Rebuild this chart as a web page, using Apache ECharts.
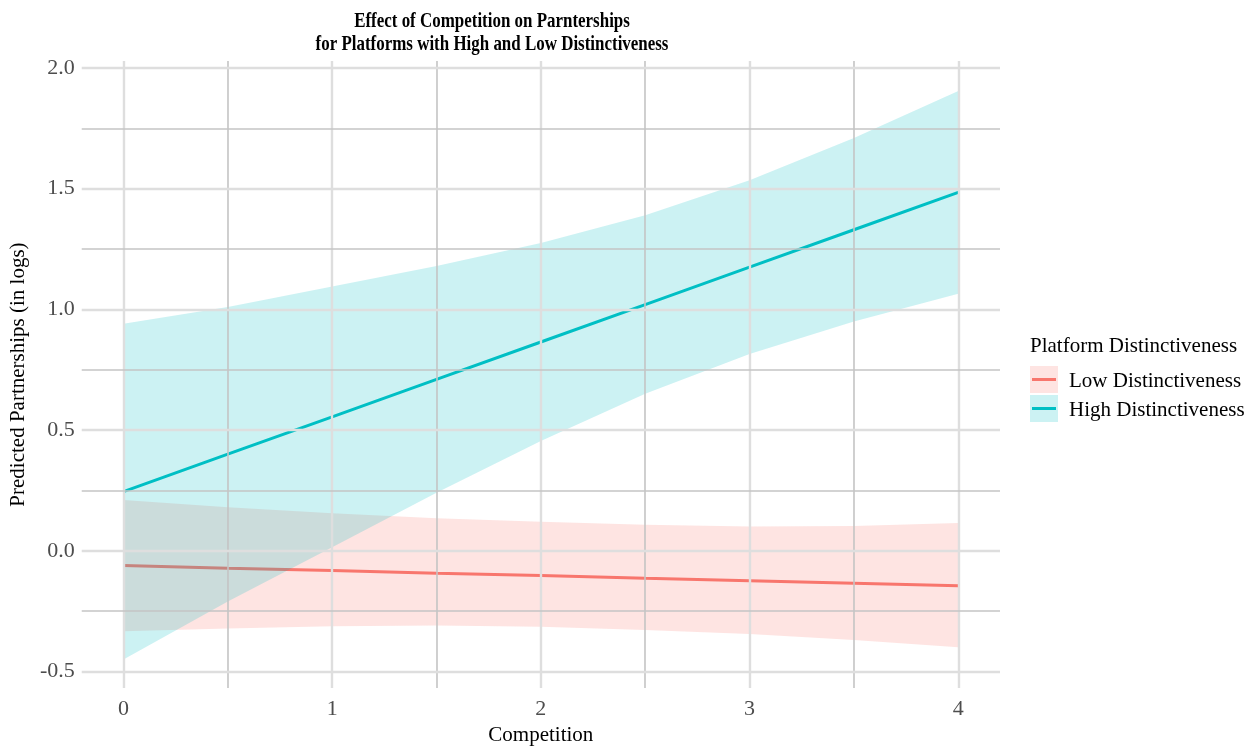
<!DOCTYPE html>
<html>
<head>
<meta charset="utf-8">
<script src="https://cdn.jsdelivr.net/npm/echarts@6/dist/echarts.min.js"></script>
<style>
html,body{margin:0;padding:0;background:#fff;}
#chart{width:1258px;height:751px;}
</style>
</head>
<body>
<div id="chart"></div>
<script>
// ---- data ----
const competition = [0, 0.5, 1, 1.5, 2, 2.5, 3, 3.5, 4];
const lowFit   = [-0.061, -0.072, -0.082, -0.093, -0.103, -0.114, -0.124, -0.135, -0.145];
const lowUpper = [0.210, 0.180, 0.155, 0.135, 0.120, 0.108, 0.100, 0.103, 0.115];
const lowLower = [-0.333, -0.322, -0.313, -0.310, -0.315, -0.328, -0.345, -0.370, -0.400];
const highFit   = [0.245, 0.400, 0.555, 0.710, 0.865, 1.020, 1.175, 1.330, 1.485];
const highUpper = [0.940, 1.010, 1.095, 1.180, 1.275, 1.390, 1.535, 1.710, 1.905];
const highLower = [-0.450, -0.210, 0.015, 0.240, 0.455, 0.650, 0.815, 0.950, 1.065];
const seriesNames = ['Low Distinctiveness', 'High Distinctiveness'];
const legendTitle = 'Platform Distinctiveness';
const xTicks = [0, 1, 2, 3, 4];
const xMinorGrid = [0.5, 1.5, 2.5, 3.5];
const yTicks = [-0.5, 0, 0.5, 1.0, 1.5, 2.0];
const yMinorGrid = [-0.25, 0.25, 0.75, 1.25, 1.75];
const titleLines = ['Effect of Competition on Parnterships', 'for Platforms with High and Low Distinctiveness'];
const xTitle = 'Competition';
const yTitle = 'Predicted Partnerships (in logs)';

const RED = '#F8766D', CYAN = '#00BFC4';
const FONT = '"Liberation Serif", "Times New Roman", serif';
const MAJOR = {color: '#dedede', width: 2.4, type: 'solid'};
const MINOR = {color: '#c4c4c4', width: 1.6, type: 'solid'};

function bandSeries(name, upper, lower, color, z) {
  return {
    type: 'custom', name: name, z: z, silent: true,
    data: competition.map((x, i) => [x, lower[i], upper[i]]),
    encode: {x: 0, y: [1, 2]},
    renderItem: function (params, api) {
      if (params.dataIndex !== 0) return null;
      const pts = [];
      for (let i = 0; i < competition.length; i++) pts.push(api.coord([competition[i], upper[i]]));
      for (let i = competition.length - 1; i >= 0; i--) pts.push(api.coord([competition[i], lower[i]]));
      return {type: 'polygon', shape: {points: pts}, style: {fill: color, opacity: 0.2}};
    }
  };
}

const gridLines = [];
xTicks.forEach(v => gridLines.push({xAxis: v, lineStyle: MAJOR}));
xMinorGrid.forEach(v => gridLines.push({xAxis: v, lineStyle: MINOR}));
yTicks.forEach(v => gridLines.push({yAxis: v, lineStyle: MAJOR}));
yMinorGrid.forEach(v => gridLines.push({yAxis: v, lineStyle: MINOR}));

const titleGraphics = titleLines.map((t, i) => ({
  type: 'text', x: 492, y: 21 + i * 23, scaleX: 0.77, scaleY: 1, silent: true,
  style: {text: t, font: 'bold 22px ' + FONT, fill: '#000', align: 'center', verticalAlign: 'middle'}
}));

const chart = echarts.init(document.getElementById('chart'), null, {renderer: 'canvas'});
chart.setOption({
  animation: false,
  backgroundColor: '#ffffff',
  grid: {left: 80, right: 258, top: 61, bottom: 54, containLabel: false},
  xAxis: {
    type: 'value', min: -0.2, max: 4.2,
    name: xTitle, nameLocation: 'middle', nameGap: 33,
    nameTextStyle: {fontFamily: FONT, fontSize: 21, color: '#000'},
    axisLine: {show: false}, axisTick: {show: false}, splitLine: {show: false},
    axisLabel: {customValues: xTicks, formatter: v => String(v), margin: 10,
      fontFamily: FONT, fontSize: 22, color: '#4d4d4d'}
  },
  yAxis: {
    type: 'value', min: -0.569, max: 2.029,
    name: yTitle, nameLocation: 'middle', nameGap: 39, nameRotate: 90,
    nameTextStyle: {fontFamily: FONT, fontSize: 21, color: '#000'},
    axisLine: {show: false}, axisTick: {show: false}, splitLine: {show: false},
    axisLabel: {customValues: yTicks, formatter: v => v.toFixed(1), margin: 7,
      fontFamily: FONT, fontSize: 22, color: '#4d4d4d'}
  },
  series: [
    {type: 'line', name: 'grid', z: 0, data: [], silent: true,
     markLine: {silent: true, symbol: 'none', label: {show: false}, animation: false, data: gridLines}},
    bandSeries(seriesNames[0] + ' band', lowUpper, lowLower, RED, 1),
    {type: 'line', name: seriesNames[0], z: 2, data: competition.map((x, i) => [x, lowFit[i]]),
     showSymbol: false, lineStyle: {color: RED, width: 3}, silent: true},
    bandSeries(seriesNames[1] + ' band', highUpper, highLower, CYAN, 3),
    {type: 'line', name: seriesNames[1], z: 4, data: competition.map((x, i) => [x, highFit[i]]),
     showSymbol: false, lineStyle: {color: CYAN, width: 3}, silent: true}
  ],
  graphic: titleGraphics.concat([
    {type: 'text', left: 1030, top: 336, style: {text: legendTitle, font: '21px ' + FONT, fill: '#000'}},
    {type: 'rect', shape: {x: 1030, y: 366, width: 28, height: 27}, style: {fill: RED, opacity: 0.2}},
    {type: 'line', shape: {x1: 1032, y1: 379.5, x2: 1056, y2: 379.5}, style: {stroke: RED, lineWidth: 3}},
    {type: 'text', left: 1069, top: 371, style: {text: seriesNames[0], font: '21px ' + FONT, fill: '#000'}},
    {type: 'rect', shape: {x: 1030, y: 395, width: 28, height: 27}, style: {fill: CYAN, opacity: 0.2}},
    {type: 'line', shape: {x1: 1032, y1: 408.5, x2: 1056, y2: 408.5}, style: {stroke: CYAN, lineWidth: 3}},
    {type: 'text', left: 1069, top: 400, style: {text: seriesNames[1], font: '21px ' + FONT, fill: '#000'}}
  ])
});
</script>
</body>
</html>
